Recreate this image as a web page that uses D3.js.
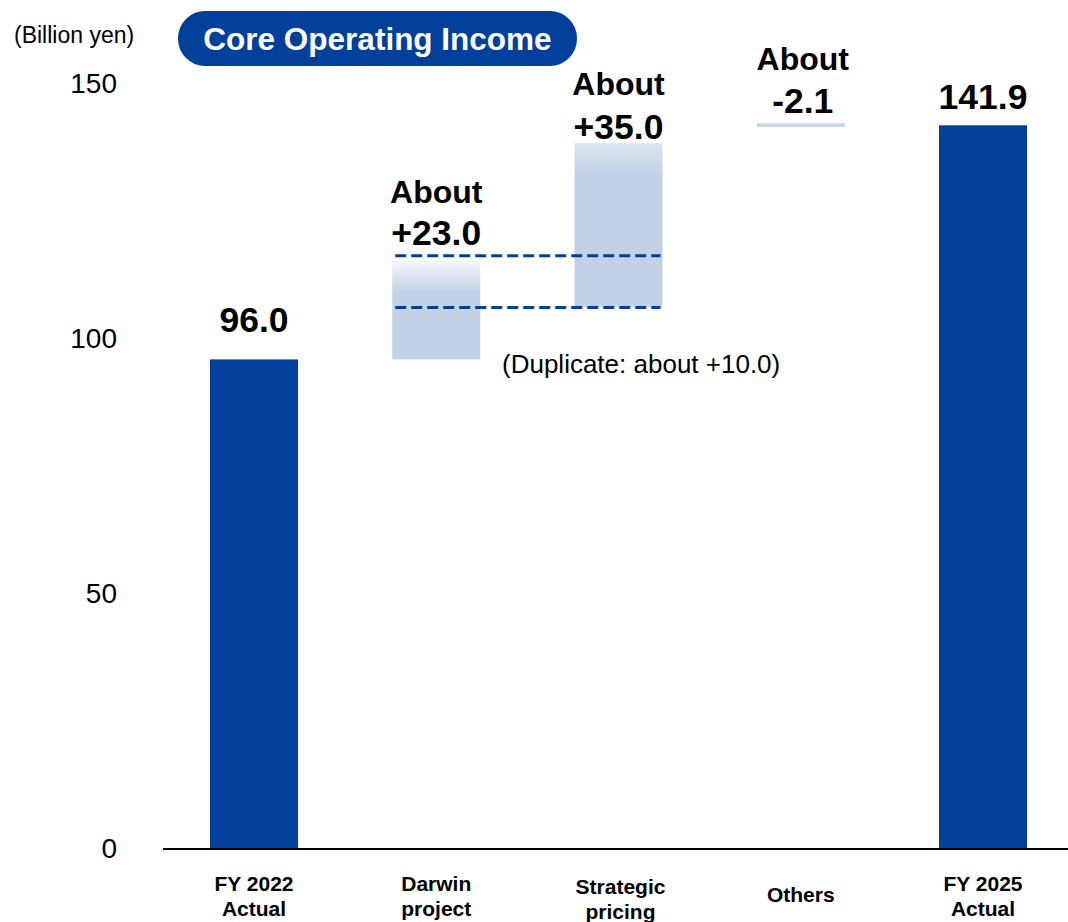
<!DOCTYPE html>
<html>
<head>
<meta charset="utf-8">
<script src="https://cdn.jsdelivr.net/npm/d3@7"></script>
<style>
  body { margin: 0; background: #fff; }
  svg text { font-family: "Liberation Sans", Arial, sans-serif; }
</style>
</head>
<body>
<div class="chart"></div>
<script>
// Core Operating Income bridge, FY2022 -> FY2025

var categories = [["FY 2022", "Actual"], ["Darwin", "project"], ["Strategic", "pricing"], ["Others"], ["FY 2025", "Actual"]];
var barLow = [0, 96, 106.3, 141.6, 0];
var barHigh = [96, 115.5, 138.4, 142.4, 141.9];
var barKind = ["total", "up", "up", "down", "total"];
var valueLabels = [["96.0"], ["About", "+23.0"], ["About", "+35.0"], ["About", "-2.1"], ["141.9"]];
var duplicateLines = [116.3, 106.2];
var yTicks = [0, 50, 100, 150];

var svgWidth = 1068;
var svgHeight = 922;
var dark = "#00409a";
var light = "#c3d1e6";

var svg = d3.select(".chart")
  .append("svg")
  .attr("width", svgWidth)
  .attr("height", svgHeight);

var defs = svg.append("defs");

// fade at top of the light bars
function addFade(id, topColor, stop) {
  var g = defs.append("linearGradient")
    .attr("id", id)
    .attr("x1", 0).attr("y1", 0).attr("x2", 0).attr("y2", 1);
  g.append("stop").attr("offset", 0).attr("stop-color", topColor);
  g.append("stop").attr("offset", stop).attr("stop-color", light);
  g.append("stop").attr("offset", 1).attr("stop-color", light);
}
addFade("fade1", "#f6f8fb", 0.32);
addFade("fade2", "#dce4f0", 0.2);
addFade("fade3", "#e2e8f2", 0.6);

var x = d3.scalePoint()
  .domain(d3.range(categories.length))
  .range([254, 983]);

var y = d3.scaleLinear()
  .domain([0, 150])
  .range([849, 84]);

var barWidth = 88;

// y axis labels
var leftAxis = d3.axisLeft(y)
  .tickValues(yTicks)
  .tickSize(0)
  .tickPadding(8);

var yAxis = svg.append("g")
  .attr("transform", "translate(125,0)")
  .call(leftAxis);
yAxis.select(".domain").remove();
yAxis.selectAll("text")
  .attr("font-size", 28)
  .attr("fill", "#000")
  .style("font-family", "'Liberation Sans', Arial, sans-serif");

svg.append("text")
  .attr("x", 14)
  .attr("y", 43)
  .attr("font-size", 23)
  .text("(Billion yen)");

// title pill
svg.append("rect")
  .attr("x", 178)
  .attr("y", 11)
  .attr("width", 399)
  .attr("height", 55)
  .attr("rx", 27)
  .attr("fill", dark);

svg.append("text")
  .attr("x", 377.5)
  .attr("y", 50)
  .attr("text-anchor", "middle")
  .attr("font-size", 31.5)
  .attr("font-weight", "bold")
  .attr("fill", "#fff")
  .text("Core Operating Income");

// bars
svg.selectAll(".bar")
  .data(d3.range(categories.length))
  .enter().append("rect")
    .attr("class", "bar")
    .attr("x", function(i) { return x(i) - barWidth / 2; })
    .attr("y", function(i) { return y(barHigh[i]); })
    .attr("width", barWidth)
    .attr("height", function(i) { return y(barLow[i]) - y(barHigh[i]); })
    .attr("fill", function(i) {
      return barKind[i] == "total" ? dark : "url(#fade" + i + ")";
    });

// duplicate dashed lines
svg.selectAll(".dup")
  .data(duplicateLines)
  .enter().append("line")
    .attr("class", "dup")
    .attr("x1", x(1) - barWidth / 2 + 3)
    .attr("x2", x(2) + barWidth / 2 - 2)
    .attr("y1", function(d) { return y(d); })
    .attr("y2", function(d) { return y(d); })
    .attr("stroke", dark)
    .attr("stroke-width", 3)
    .attr("stroke-dasharray", "11,5");

svg.append("text")
  .attr("x", 502)
  .attr("y", 373)
  .attr("font-size", 26)
  .text("(Duplicate: about +10.0)");

// value labels ("About" a bit smaller than the numbers)
var labelBase = [332, 203, 95, 70, 109];
var labelGap = [0, 42, 44, 43, 0];
valueLabels.forEach(function(lines, i) {
  var t = svg.append("text")
    .attr("text-anchor", "middle")
    .attr("font-weight", "bold")
    .attr("fill", "#000");
  lines.forEach(function(s, j) {
    t.append("tspan")
      .attr("x", x(i) + (i == 3 ? 2 : 0))
      .attr("y", labelBase[i] + j * labelGap[i])
      .attr("font-size", s == "About" ? 32 : 35.5)
      .text(s);
  });
});

// x axis line
svg.append("line")
  .attr("x1", 163)
  .attr("x2", 1068)
  .attr("y1", 849)
  .attr("y2", 849)
  .attr("stroke", "#000")
  .attr("stroke-width", 2);

// category labels
categories.forEach(function(lines, i) {
  var t = svg.append("text")
    .attr("text-anchor", "middle")
    .attr("font-size", 21)
    .attr("font-weight", "bold");
  var base = lines.length == 1 ? 902 : (i == 2 ? 894 : 891);
  lines.forEach(function(s, j) {
    t.append("tspan")
      .attr("x", x(i) + (i == 2 ? 2 : 0))
      .attr("y", base + j * 25)
      .text(s);
  });
});
</script>
</body>
</html>
